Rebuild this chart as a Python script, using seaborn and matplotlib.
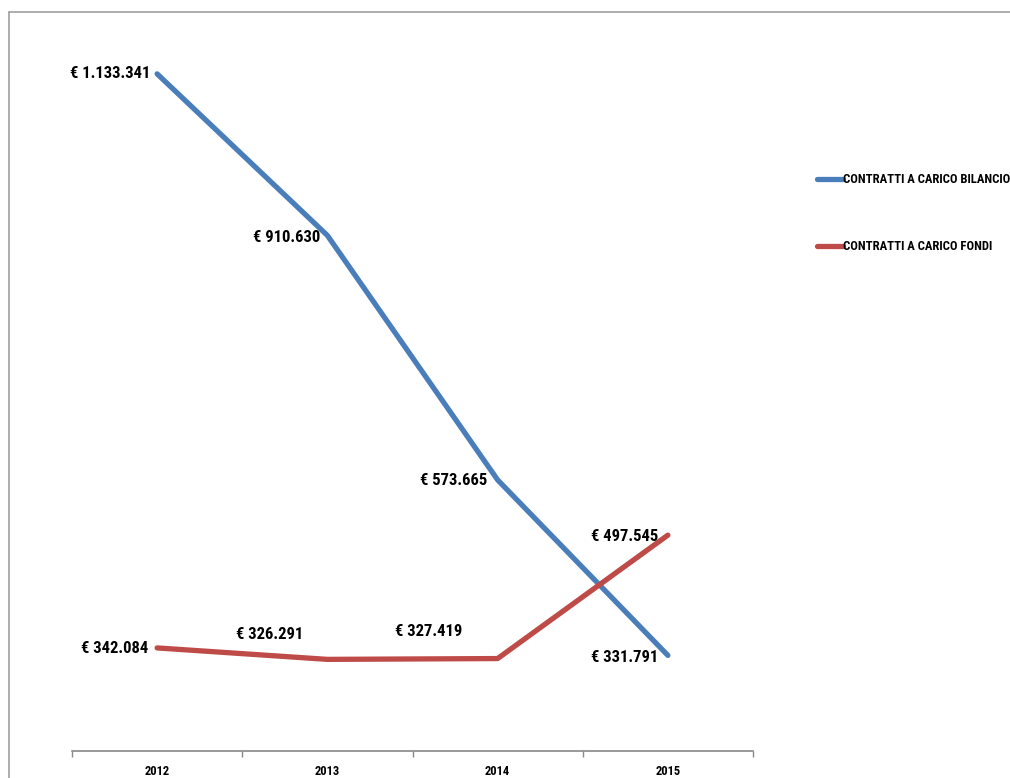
import matplotlib
matplotlib.use("Agg")
import matplotlib.pyplot as plt
import seaborn as sns
import pandas as pd
from matplotlib.lines import Line2D
from matplotlib import font_manager

years = ["2012", "2013", "2014", "2015"]
bilancio = [1133341, 910630, 573665, 331791]
fondi = [342084, 326291, 327419, 497545]
series_names = ["CONTRATTI A CARICO BILANCIO", "CONTRATTI A CARICO FONDI"]
bil_labels = ["€ 1.133.341", "€ 910.630", "€ 573.665", "€ 331.791"]
fon_labels = ["€ 342.084", "€ 326.291", "€ 327.419", "€ 497.545"]

sns.set_style("white")
avail = {f.name for f in font_manager.fontManager.ttflist}
narrow = ["Liberation Sans Narrow", "DejaVu Sans Condensed", "Roboto Condensed",
          "Open Sans Condensed", "Noto Sans Condensed", "Arial Narrow"]
fam = next((f for f in narrow if f in avail), None)
if fam is None:
    fam = "DejaVu Sans"
    lab_fs, tick_fs, leg_fs = 10.5, 7.5, 7.5
else:
    lab_fs, tick_fs, leg_fs = 12, 9, 9.1
plt.rcParams["font.family"] = [fam, "DejaVu Sans"]
plt.rcParams["text.color"] = "black"

df = pd.DataFrame({
    "x": list(range(4)) * 2,
    "value": bilancio + fondi,
    "serie": [series_names[0]] * 4 + [series_names[1]] * 4,
})

fig = plt.figure(figsize=(10.1, 7.78), dpi=100)
ax = fig.add_axes([72 / 1010, 1 - 751 / 778, (753 - 72) / 1010, (751 - 25.5) / 778])
palette = {series_names[0]: "#4A7EBB", series_names[1]: "#BE4B48"}
sns.lineplot(data=df, x="x", y="value", hue="serie", palette=palette, linewidth=3.8,
             ax=ax, legend=False, solid_capstyle="round")

ax.set_xlim(-0.5, 3.5)
ax.set_ylim(200000, 1200000)
ax.set_yticks([])
ax.set_xticks(range(4))
ax.set_xticklabels(years, fontsize=tick_fs, fontweight="bold", color="black")
ax.set_xticks([-0.5, 0.5, 1.5, 2.5, 3.5], minor=True)
ax.tick_params(axis="x", which="major", bottom=True, length=0, pad=10)
ax.tick_params(axis="x", which="minor", bottom=True, length=4, width=1, color="#888888", direction="out")
ax.set_xlabel("")
ax.set_ylabel("")
for s in ["top", "right", "left"]:
    ax.spines[s].set_visible(False)
ax.spines["bottom"].set_color("#888888")
ax.spines["bottom"].set_linewidth(1.2)

bil_off = [(-7, 0), (-7, -2), (-10, -1), (-10, -2)]
fon_off = [(-9, -1), (-24, 25), (-35, 27), (-10, -1)]
for i in range(4):
    ax.annotate(bil_labels[i], (i, bilancio[i]), xytext=bil_off[i], textcoords="offset pixels",
                ha="right", va="center", fontsize=lab_fs, fontweight="bold", color="black")
    ax.annotate(fon_labels[i], (i, fondi[i]), xytext=fon_off[i], textcoords="offset pixels",
                ha="right", va="center", fontsize=lab_fs, fontweight="bold", color="black")

handles = [Line2D([], [], color=palette[n], linewidth=3.8, solid_capstyle="round") for n in series_names]
leg = fig.legend(handles, series_names, loc="upper left", bbox_to_anchor=(806 / 1010, 1 - 162 / 778),
                 frameon=False, handlelength=2.0, handletextpad=0.0, labelspacing=4.25,
                 prop={"weight": "bold", "size": leg_fs})
for t in leg.get_texts():
    t.set_color("black")

# outer chart border
fig.add_artist(Line2D([9 / 1010, 1.01], [1 - 12 / 778, 1 - 12 / 778], color="#A0A0A0", linewidth=1.2,
                      transform=fig.transFigure))
fig.add_artist(Line2D([9 / 1010, 9 / 1010], [1 - 12 / 778, -0.01], color="#A0A0A0", linewidth=1.2,
                      transform=fig.transFigure))

fig.savefig("out.png", dpi=100)
